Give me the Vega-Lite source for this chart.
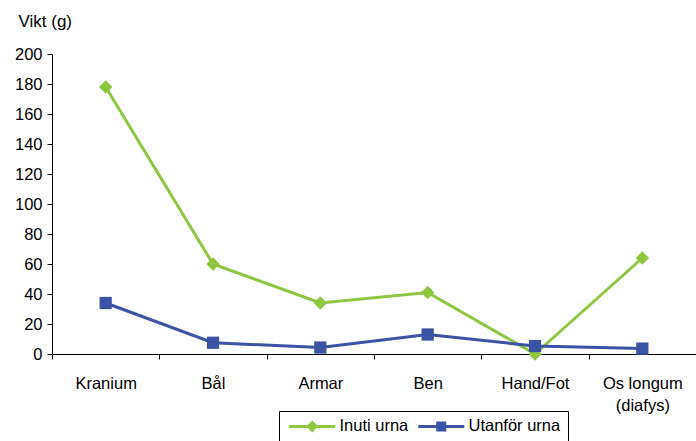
{
  "$schema": "https://vega.github.io/schema/vega-lite/v6.json",
  "width": 644,
  "height": 300,
  "autosize": {"type": "none"},
  "padding": {"left": 52, "top": 54, "right": 0, "bottom": 87},
  "config": {
    "font": "Liberation Sans",
    "view": {"stroke": null},
    "axis": {"labelFont": "Liberation Sans", "labelFontSize": 16.5, "labelColor": "#000", "domainColor": "#000", "tickColor": "#000", "grid": false, "domainWidth": 1, "tickWidth": 1}
  },
  "data": {
    "values": [
      {"del": "Kranium", "serie": "Inuti urna", "vikt": 178},
      {"del": "Bål", "serie": "Inuti urna", "vikt": 60},
      {"del": "Armar", "serie": "Inuti urna", "vikt": 34},
      {"del": "Ben", "serie": "Inuti urna", "vikt": 41},
      {"del": "Hand/Fot", "serie": "Inuti urna", "vikt": 0},
      {"del": "Os longum (diafys)", "serie": "Inuti urna", "vikt": 64},
      {"del": "Kranium", "serie": "Utanför urna", "vikt": 34},
      {"del": "Bål", "serie": "Utanför urna", "vikt": 7.5},
      {"del": "Armar", "serie": "Utanför urna", "vikt": 4.3},
      {"del": "Ben", "serie": "Utanför urna", "vikt": 13},
      {"del": "Hand/Fot", "serie": "Utanför urna", "vikt": 5.3},
      {"del": "Os longum (diafys)", "serie": "Utanför urna", "vikt": 3.6}
    ]
  },
  "encoding": {
    "x": {
      "field": "del", "type": "nominal",
      "sort": ["Kranium", "Bål", "Armar", "Ben", "Hand/Fot", "Os longum (diafys)"],
      "bandPosition": 0.5,
      "scale": {"type": "band", "paddingInner": 0, "paddingOuter": 0},
      "axis": {
        "title": null, "ticks": true, "tickBand": "extent", "tickSize": 5, "domain": true, "labelAngle": 0, "labelPadding": 16,
        "labelBaseline": "top", "labelLineHeight": 22,
        "labelExpr": "datum.value == 'Os longum (diafys)' ? ['Os longum', '(diafys)'] : datum.value"
      }
    },
    "y": {
      "field": "vikt", "type": "quantitative",
      "scale": {"domain": [0, 200], "nice": false, "zero": true},
      "axis": {
        "values": [0, 20, 40, 60, 80, 100, 120, 140, 160, 180, 200],
        "tickSize": 5, "labelPadding": 5,
        "title": "Vikt (g)", "titleAngle": 0, "titleX": -34, "titleY": -33,
        "titleAlign": "left", "titleBaseline": "middle",
        "titleFont": "Liberation Sans", "titleFontSize": 17, "titleFontWeight": "normal", "titleColor": "#000"
      }
    }
  },
  "layer": [
    {
      "mark": {"type": "line", "strokeWidth": 3},
      "encoding": {
        "color": {
          "field": "serie", "type": "nominal",
          "scale": {"domain": ["Inuti urna", "Utanför urna"], "range": ["#8DC63F", "#3A53A4"]},
          "legend": {
            "title": null, "orient": "none", "legendX": 227, "legendY": 357,
            "direction": "horizontal",
            "labelFont": "Liberation Sans", "labelFontSize": 16.5, "labelColor": "#000",
            "symbolSize": 100, "symbolStrokeWidth": 0,
            "symbolType": "M-1,-0.3H8.2V0.3H-1Z",
            "labelOffset": 37, "columnPadding": 6, "padding": 7,
            "strokeColor": "#000", "fillColor": "#fff",
            "encode": {
              "symbols": {
                "update": {
                  "shape": {"signal": "datum.value === 'Inuti urna' ? 'M-1,-0.3H8.2V0.3H-1ZM3.6,-1.2L4.8,0L3.6,1.2L2.4,0Z' : 'M-1,-0.3H8.2V0.3H-1ZM2.6,-1H4.6V1H2.6Z'"},
                  "fill": {"signal": "datum.value === 'Inuti urna' ? '#8DC63F' : '#3A53A4'"},
                  "opacity": {"value": 1},
                  "fillOpacity": {"value": 1}
                }
              }
            }
          }
        }
      }
    },
    {
      "transform": [{"filter": "datum.serie === 'Inuti urna'"}],
      "mark": {"type": "point", "filled": true, "opacity": 1, "shape": "diamond", "size": 180, "color": "#8DC63F"}
    },
    {
      "transform": [{"filter": "datum.serie === 'Utanför urna'"}],
      "mark": {"type": "point", "filled": true, "opacity": 1, "shape": "square", "size": 150, "color": "#3A53A4"}
    }
  ]
}
